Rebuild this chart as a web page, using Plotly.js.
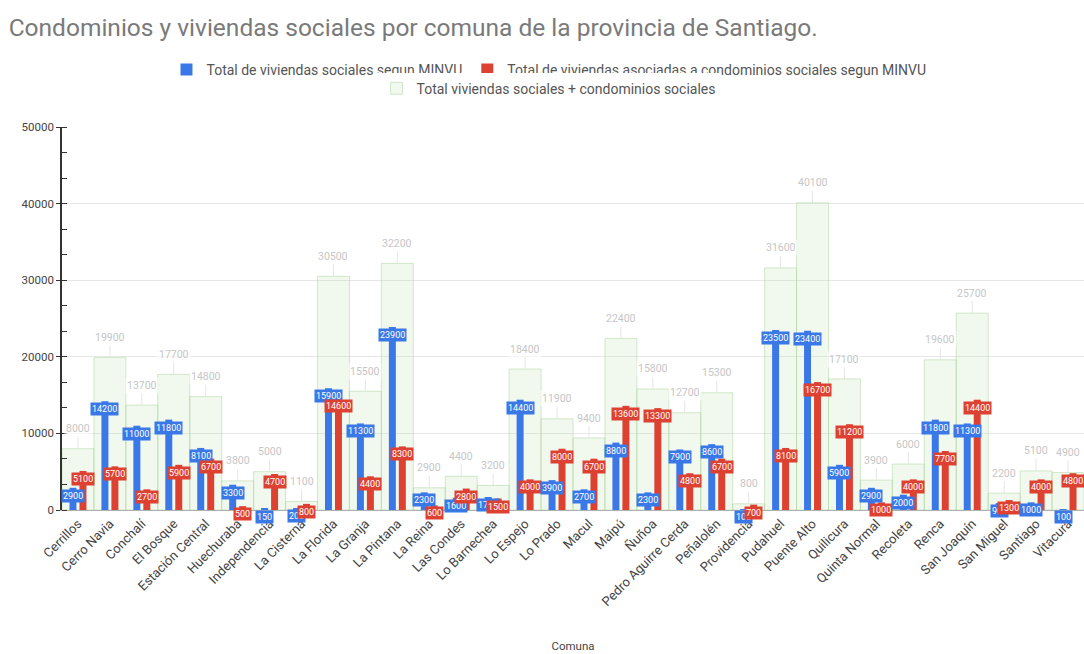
<!DOCTYPE html>
<html>
<head>
<meta charset="utf-8">
<script src="https://cdn.plot.ly/plotly-3.0.1.min.js"></script>
<style>html,body{margin:0;padding:0;background:#fff;}#chart{width:1084px;height:654px;}</style>
</head>
<body>
<div id="chart"></div>
<script>
const comunas = ["Cerrillos","Cerro Navia","Conchalí","El Bosque","Estación Central","Huechuraba","Independencia","La Cisterna","La Florida","La Granja","La Pintana","La Reina","Las Condes","Lo Barnechea","Lo Espejo","Lo Prado","Macul","Maipú","Ñuñoa","Pedro Aguirre Cerda","Peñalolén","Providencia","Pudahuel","Puente Alto","Quilicura","Quinta Normal","Recoleta","Renca","San Joaquín","San Miguel","Santiago","Vitacura"];
const viviendasSociales = [2900,14200,11000,11800,8100,3300,150,200,15900,11300,23900,2300,1600,1700,14400,3900,2700,8800,2300,7900,8600,100,23500,23400,5900,2900,2000,11800,11300,900,1000,100];
const condominiosSociales = [5100,5700,2700,5900,6700,500,4700,800,14600,4400,8300,600,2800,1500,4000,8000,6700,13600,13300,4800,6700,700,8100,16700,11200,1000,4000,7700,14400,1300,4000,4800];
const totalViviendas = [8000,19900,13700,17700,14800,3800,5000,1100,30500,15500,32200,2900,4400,3200,18400,11900,9400,22400,15800,12700,15300,800,31600,40100,17100,3900,6000,19600,25700,2200,5100,4900];
const yTicks = [0,10000,20000,30000,40000,50000];

const BLUE = '#3b78e7', RED = '#dd4132';
const FONT = 'Roboto, Arial, sans-serif';
const bargap = 0.375;
const slot = (1 - bargap) / 2;

const traces = [
  {type:'bar', name:'Total viviendas sociales + condominios sociales', x:comunas, y:totalViviendas,
   width:1, xaxis:'x', yaxis:'y', legend:'legend2',
   marker:{color:'rgba(200,230,186,0.25)', line:{color:'rgba(172,212,158,0.5)', width:1}}, hoverinfo:'x+y'},
  {type:'bar', name:'Total de viviendas sociales segun MINVU', x:comunas, y:viviendasSociales,
   xaxis:'x2', yaxis:'y', marker:{color:BLUE}},
  {type:'bar', name:'Total de viviendas asociadas a condominios sociales segun MINVU', x:comunas, y:condominiosSociales,
   xaxis:'x2', yaxis:'y', marker:{color:RED}}
];

const annotations = [];
comunas.forEach((c,i) => {
  annotations.push({xref:'x', yref:'y', x:i, y:totalViviendas[i], text:String(totalViviendas[i]),
    showarrow:true, arrowhead:0, arrowwidth:1, arrowcolor:'#e6e6e6', ax:0, ay:-20,
    font:{family:FONT, size:10.5, color:'#c6c6c6'}, bgcolor:'rgba(255,255,255,0.6)', borderpad:1});
  annotations.push({xref:'x2', yref:'y', x:i - slot/2, y:viviendasSociales[i], text:String(viviendasSociales[i]),
    showarrow:false, yshift:-8, font:{family:FONT, size:9, color:'#ffffff'}, bgcolor:BLUE, borderpad:1});
  annotations.push({xref:'x2', yref:'y', x:i + slot/2, y:condominiosSociales[i], text:String(condominiosSociales[i]),
    showarrow:false, yshift:-8, font:{family:FONT, size:9, color:'#ffffff'}, bgcolor:RED, borderpad:1});
});

const layout = {
  width:1084, height:654,
  margin:{l:62, r:0, t:127, b:144},
  paper_bgcolor:'#fff', plot_bgcolor:'#fff',
  font:{family:FONT, color:'#444'},
  title:{text:'Condominios y viviendas sociales por comuna de la provincia de Santiago.',
    x:0.008, xanchor:'left', xref:'container', y:0.958, yanchor:'middle', yref:'container',
    font:{family:FONT, size:24.5, color:'#7a7a7a'}},
  barmode:'group', bargap:bargap, bargroupgap:0.3,
  showlegend:true,
  legend:{orientation:'h', x:0.4765, xanchor:'center', y:1.149, yanchor:'middle',
    font:{family:FONT, size:14, color:'#555'}, traceorder:'normal', itemwidth:30},
  legend2:{orientation:'h', x:0.4765, xanchor:'center', y:1.100, yanchor:'middle',
    font:{family:FONT, size:14, color:'#555'}},
  xaxis:{type:'category', categoryorder:'array', categoryarray:comunas, range:[-0.5,31.5],
    tickangle:-45, tickfont:{family:FONT, size:13, color:'#444'}, ticks:'', showgrid:false,
    showline:true, linecolor:'#b0b0b0', linewidth:1,
    title:{text:'Comuna', font:{family:FONT, size:11.5, color:'#444'}, standoff:33}, automargin:false},
  xaxis2:{type:'category', categoryorder:'array', categoryarray:comunas, range:[-0.5,31.5],
    overlaying:'x', visible:false, showgrid:false},
  yaxis:{range:[0,50000], tickvals:yTicks, ticktext:yTicks.map(String),
    tickfont:{family:FONT, size:11.5, color:'#444'}, showgrid:true, gridcolor:'#e6e6e6',
    zeroline:false, showline:true, linecolor:'#333', linewidth:1.5,
    ticks:'outside', ticklen:4, tickcolor:'#333',
    minor:{dtick:10000/3, tick0:0, ticks:'inside', ticklen:5, tickcolor:'#333', showgrid:false}},
  annotations:annotations
};

Plotly.newPlot('chart', traces, layout, {displayModeBar:false, responsive:false});
</script>
</body>
</html>
